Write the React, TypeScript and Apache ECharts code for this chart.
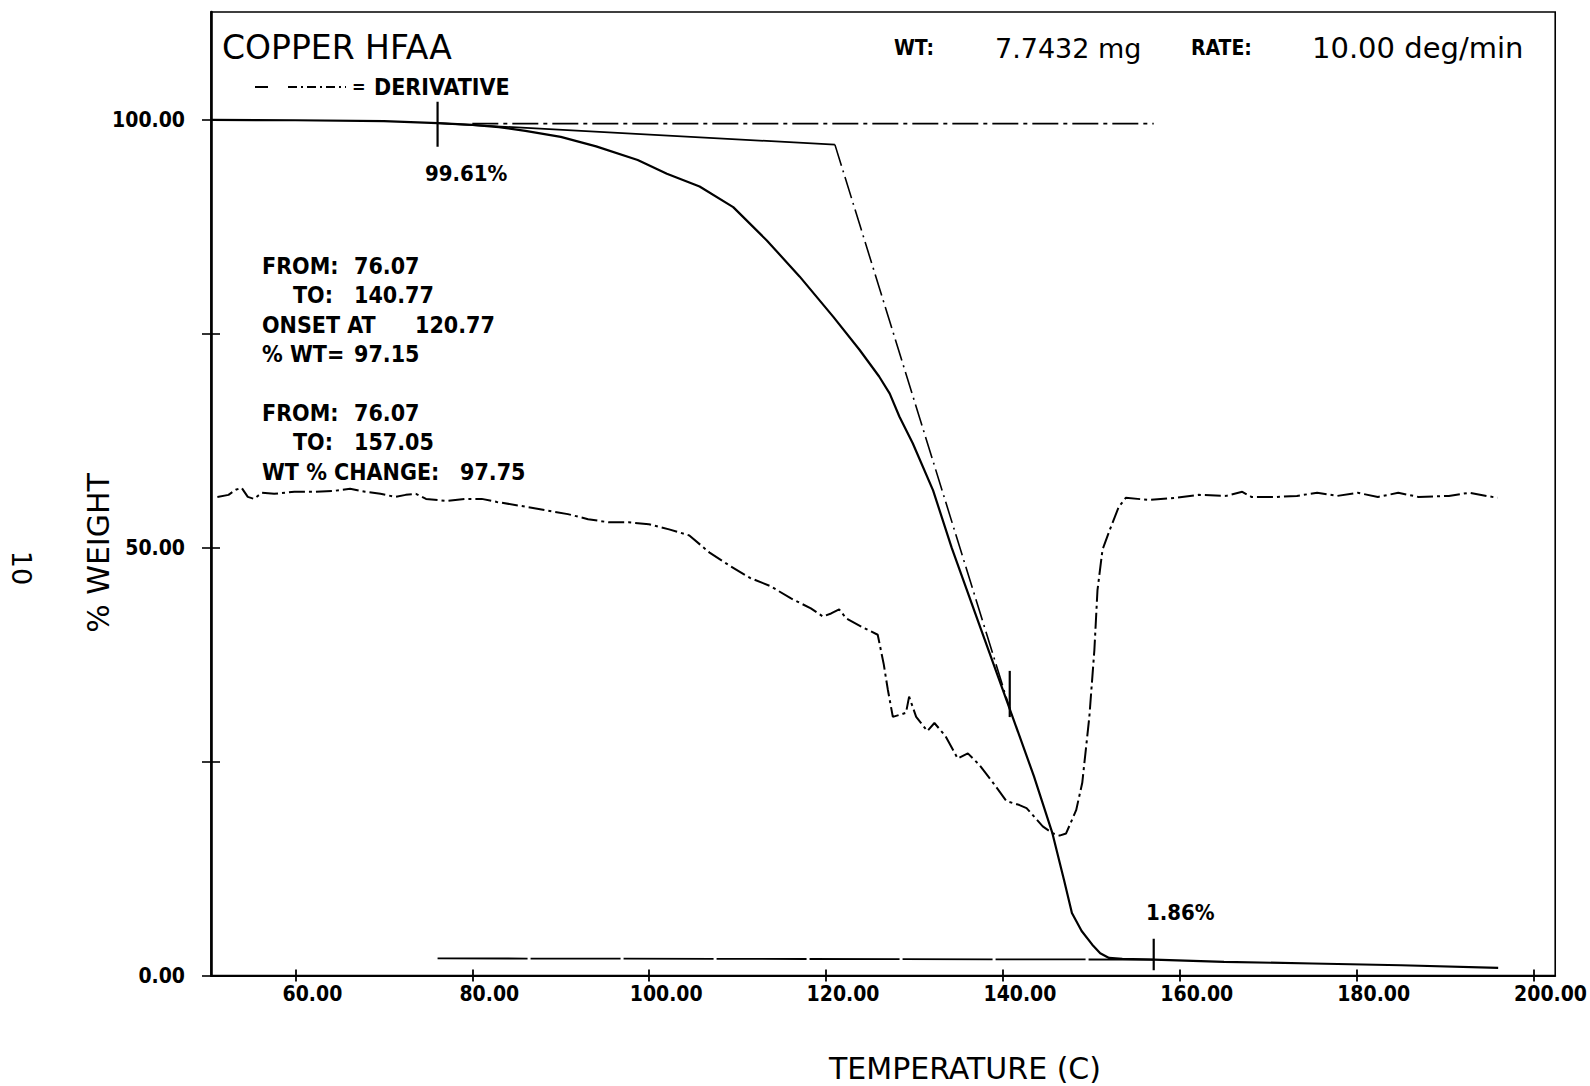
import React, { useEffect, useRef } from "react";
import * as echarts from "echarts";

// ---- data ----
const tempMain = [50.45, 60, 70, 76.07, 80, 83, 86, 90, 94, 98.7, 102, 105.7, 109.5, 113.3, 117, 120.8, 123.8, 126, 127.2, 128.3, 129.8, 132.1, 134.2, 137.5, 141.1, 143.5, 145.6, 146.9, 147.8, 148.9, 150.1, 151.0, 152.0, 153.5, 157.05, 165, 175, 185, 196];
const weightMain = [100, 99.95, 99.85, 99.61, 99.4, 99.15, 98.7, 98.0, 96.9, 95.3, 93.7, 92.2, 89.8, 85.9, 81.7, 77.0, 73.1, 70.0, 68.0, 65.3, 62.2, 56.7, 50.0, 40.5, 30.2, 23.3, 16.6, 11.2, 7.3, 5.2, 3.6, 2.6, 2.05, 1.95, 1.86, 1.6, 1.4, 1.2, 0.9];

const tempDeriv = [51.17, 52.43, 53.24, 53.92, 54.61, 55.30, 56.21, 57.59, 59.88, 62.17, 64.46, 66.18, 67.89, 69.61, 71.33, 72.47, 73.62, 74.76, 77.06, 79.34, 81.06, 82.78, 86.22, 90.80, 93.09, 95.38, 97.67, 99.96, 102.25, 104.54, 106.83, 109.12, 111.41, 113.70, 115.99, 118.28, 119.65, 120.57, 121.48, 122.29, 124.00, 125.84, 126.52, 126.98, 127.55, 129.04, 129.39, 130.19, 131.45, 132.25, 133.51, 134.88, 136.03, 137.29, 138.89, 140.38, 141.87, 142.67, 144.50, 145.65, 146.40, 147.14, 148.28, 148.97, 149.77, 150.34, 150.69, 151.26, 152.06, 153.09, 153.89, 156.52, 159.50, 162.13, 165.23, 167.06, 168.09, 170.95, 173.24, 175.53, 177.82, 180.11, 182.40, 184.70, 186.98, 190.42, 192.71, 195.92];
const derivVals = [55.93, 56.17, 56.76, 56.99, 55.93, 55.70, 56.41, 56.29, 56.53, 56.53, 56.65, 56.88, 56.53, 56.29, 55.93, 56.17, 56.29, 55.70, 55.46, 55.70, 55.70, 55.34, 54.75, 53.92, 53.33, 52.97, 52.97, 52.74, 52.14, 51.43, 49.42, 47.88, 46.46, 45.51, 44.09, 42.90, 41.95, 42.31, 42.78, 41.72, 40.77, 39.82, 36.39, 33.43, 30.22, 30.70, 32.59, 30.22, 28.57, 29.51, 27.97, 25.37, 25.96, 24.66, 22.52, 20.39, 19.92, 19.56, 17.43, 16.60, 16.35, 16.60, 19.32, 22.52, 30.22, 38.04, 45.03, 49.77, 52.02, 54.75, 55.82, 55.58, 55.82, 56.17, 56.05, 56.53, 55.93, 55.93, 56.05, 56.41, 56.05, 56.41, 55.93, 56.41, 55.93, 56.05, 56.41, 55.82];

// onset construction lines
const tangentTopTemp = [76.07, 121.0];
const tangentTopWeight = [99.61, 97.1];
const tangentSteepTemp = [121.0, 140.77];
const tangentSteepWeight = [97.1, 31.2];
const upperBaseTemp = [80.0, 157.05];
const upperBaseWeight = [99.55, 99.55];
const lowerBaseTemp = [76.07, 157.05];
const lowerBaseWeight = [2.0, 1.86];

// vertical markers: [temperature, low, high]
const markerTemps = [76.07, 140.77, 157.05];
const markerLows = [96.85, 30.2, 0.6];
const markerHighs = [102.1, 35.6, 4.3];

const xTickValues = [60, 80, 100, 120, 140, 160, 180, 200];
const yTickValues = [0, 25, 50, 75, 100];
const yLabelValues = [0, 50, 100];

const X_MIN = 50.45;
const X_MAX = 202.45;
const Y_MIN = 0;
const Y_MAX = 112.6;

const COND = '"DejaVu Sans Condensed", "Liberation Sans Narrow", "DejaVu Sans", sans-serif';
const THIN = '"DejaVu Sans", "Liberation Sans", sans-serif';

function pairs(xs: number[], ys: number[]) {
  const n = Math.min(xs.length, ys.length);
  const out: number[][] = [];
  for (let i = 0; i < n; i++) out.push([xs[i], ys[i]]);
  return out;
}

function condText(text: string, x: number, y: number, size = 21) {
  return {
    type: "text",
    x,
    y,
    silent: true,
    style: {
      text,
      fontFamily: COND,
      fontWeight: "bold",
      fontSize: size,
      fill: "#000",
      textAlign: "left",
      textVerticalAlign: "middle",
    },
  };
}

function thinText(text: string, x: number, y: number, size: number, align = "left") {
  return {
    type: "text",
    x,
    y,
    silent: true,
    style: {
      text,
      fontFamily: THIN,
      fontWeight: "normal",
      fontSize: size,
      fill: "#000",
      textAlign: align,
      textVerticalAlign: "middle",
    },
  };
}

export default function App() {
  const ref = useRef<HTMLDivElement>(null);

  useEffect(() => {
    if (!ref.current) return;
    const chart = echarts.init(ref.current, undefined, { renderer: "svg" });

    const lineBase = {
      type: "line",
      showSymbol: false,
      symbol: "none",
      silent: true,
      xAxisIndex: 0,
      yAxisIndex: 0,
    };

    const markerSeries = markerTemps.map((t, i) => ({
      ...lineBase,
      name: "marker" + i,
      data: [
        [t, markerLows[i]],
        [t, markerHighs[i]],
      ],
      lineStyle: { color: "#000", width: 2.2 },
    }));

    const option: any = {
      animation: false,
      backgroundColor: "#fff",
      grid: {
        left: 211,
        right: 33,
        top: 12,
        bottom: 110.5,
        show: true,
        borderColor: "#000",
        borderWidth: 1.6,
        backgroundColor: "transparent",
      },
      xAxis: [
        {
          type: "value",
          min: X_MIN,
          max: X_MAX,
          position: "bottom",
          axisLine: { show: true, onZero: false, lineStyle: { color: "#000", width: 2 } },
          axisTick: { show: true, customValues: xTickValues, length: 6, lineStyle: { color: "#000", width: 1.8 } },
          axisLabel: {
            customValues: xTickValues,
            formatter: (v: number) => v.toFixed(2),
            fontFamily: COND,
            fontWeight: "bold",
            fontSize: 21,
            color: "#000",
            margin: 8,
            padding: [0, 0, 0, 34],
          },
          splitLine: { show: false },
        },
        {
          type: "value",
          min: X_MIN,
          max: X_MAX,
          position: "bottom",
          axisLine: { show: false },
          axisTick: { show: true, inside: true, customValues: xTickValues, length: 6, lineStyle: { color: "#000", width: 1.8 } },
          axisLabel: { show: false },
          splitLine: { show: false },
        },
      ],
      yAxis: [
        {
          type: "value",
          min: Y_MIN,
          max: Y_MAX,
          position: "left",
          axisLine: { show: true, onZero: false, lineStyle: { color: "#000", width: 2.6 } },
          axisTick: { show: true, customValues: yTickValues, length: 9, lineStyle: { color: "#000", width: 1.6 } },
          axisLabel: {
            customValues: yLabelValues,
            formatter: (v: number) => v.toFixed(2),
            fontFamily: COND,
            fontWeight: "bold",
            fontSize: 21,
            color: "#000",
            margin: 26,
          },
          splitLine: { show: false },
        },
        {
          type: "value",
          min: Y_MIN,
          max: Y_MAX,
          position: "left",
          axisLine: { show: false },
          axisTick: { show: true, inside: true, customValues: yTickValues, length: 9, lineStyle: { color: "#000", width: 1.6 } },
          axisLabel: { show: false },
          splitLine: { show: false },
        },
      ],
      series: [
        {
          ...lineBase,
          name: "weight",
          data: pairs(tempMain, weightMain),
          smooth: false,
          lineStyle: { color: "#000", width: 2.2 },
        },
        {
          ...lineBase,
          name: "derivative",
          data: pairs(tempDeriv, derivVals),
          lineStyle: { color: "#000", width: 2, type: [16, 4, 3, 4] },
        },
        {
          ...lineBase,
          name: "tangentTop",
          data: pairs(tangentTopTemp, tangentTopWeight),
          lineStyle: { color: "#000", width: 1.8 },
        },
        {
          ...lineBase,
          name: "tangentSteep",
          data: pairs(tangentSteepTemp, tangentSteepWeight),
          lineStyle: { color: "#000", width: 1.6, type: [22, 5, 2, 5] },
        },
        {
          ...lineBase,
          name: "upperBase",
          data: pairs(upperBaseTemp, upperBaseWeight),
          lineStyle: { color: "#000", width: 1.6, type: [26, 5, 4, 5] },
        },
        {
          ...lineBase,
          name: "lowerBase",
          data: pairs(lowerBaseTemp, lowerBaseWeight),
          lineStyle: { color: "#000", width: 1.8, type: [90, 3] },
        },
        ...markerSeries,
      ],
      graphic: [
        thinText("COPPER HFAA", 222, 47, 33),
        condText("WT:", 894, 48, 21),
        thinText("7.7432 mg", 995, 48, 27),
        condText("RATE:", 1191, 48, 21),
        thinText("10.00 deg/min", 1312, 48, 29),
        // legend
        { type: "line", silent: true, shape: { x1: 255, y1: 87, x2: 268, y2: 87 }, style: { stroke: "#000", lineWidth: 2 } },
        { type: "line", silent: true, shape: { x1: 288, y1: 87, x2: 346, y2: 87 }, style: { stroke: "#000", lineWidth: 2, lineDash: [9, 4, 2, 4] } },
        condText("=", 352, 86, 18),
        condText("DERIVATIVE", 374, 87, 23),
        // markers text
        condText("99.61%", 425, 173, 22),
        condText("1.86%", 1146, 912, 22),
        // annotation block
        condText("FROM:", 262, 266, 23),
        condText("76.07", 354, 266, 23),
        condText("TO:", 293, 295, 23),
        condText("140.77", 354, 295, 23),
        condText("ONSET AT", 262, 324.5, 23),
        condText("120.77", 415, 324.5, 23),
        condText("% WT=", 262, 354, 23),
        condText("97.15", 354, 354, 23),
        condText("FROM:", 262, 413, 23),
        condText("76.07", 354, 413, 23),
        condText("TO:", 293, 442, 23),
        condText("157.05", 354, 442, 23),
        condText("WT % CHANGE:", 262, 471.5, 23),
        condText("97.75", 460, 471.5, 23),
        // axis titles
        thinText("TEMPERATURE (C)", 965, 1068, 30, "center"),
        {
          type: "text",
          x: 98,
          y: 553,
          rotation: Math.PI / 2,
          silent: true,
          style: {
            text: "% WEIGHT",
            fontFamily: THIN,
            fontSize: 30,
            fill: "#000",
            textAlign: "center",
            textVerticalAlign: "middle",
          },
        },
        {
          type: "text",
          x: 21,
          y: 568,
          rotation: -Math.PI / 2,
          silent: true,
          style: {
            text: "10",
            fontFamily: THIN,
            fontSize: 27,
            fill: "#000",
            textAlign: "center",
            textVerticalAlign: "middle",
          },
        },
      ],
    };

    chart.setOption(option);
    return () => {
      chart.dispose();
    };
  }, []);

  return (
    <div
      ref={ref}
      style={{
        position: "fixed",
        left: 0,
        top: 0,
        width: 1590,
        height: 1086,
        background: "#fff",
      }}
    />
  );
}
